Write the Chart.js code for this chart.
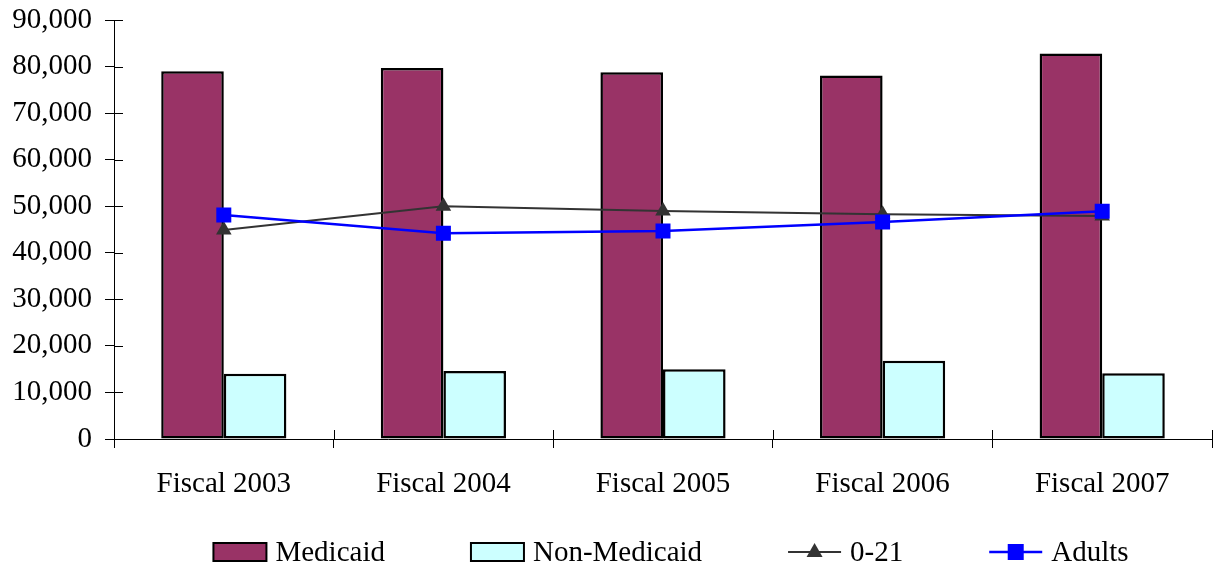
<!DOCTYPE html>
<html>
<head>
<meta charset="utf-8">
<script src="https://cdn.jsdelivr.net/npm/chart.js@4.4.1/dist/chart.umd.min.js"></script>
<style>
  html, body { margin: 0; padding: 0; background: #fff; }
  #wrap { width: 1214px; height: 567px; }
</style>
</head>
<body>
<div id="wrap"><canvas id="chart" width="1214" height="567"></canvas></div>
<script>
const categories = ['Fiscal 2003', 'Fiscal 2004', 'Fiscal 2005', 'Fiscal 2006', 'Fiscal 2007'];
const medicaid = [79000, 79700, 78800, 78100, 82800];
const nonMedicaid = [14000, 14600, 15000, 16800, 14100];
const age021 = [44900, 50000, 49000, 48300, 47900];
const adults = [48100, 44200, 44700, 46600, 48900];
const yTicks = [0, 10000, 20000, 30000, 40000, 50000, 60000, 70000, 80000, 90000];

const FONT = '"Liberation Serif", "Times New Roman", serif';

// inner half of the crossing tick marks
const innerTicks = {
    id: 'innerTicks',
    afterDraw(chart) {
        const {ctx, chartArea, scales} = chart;
        ctx.save();
        ctx.strokeStyle = '#000';
        ctx.lineWidth = 1;
        ctx.beginPath();
        yTicks.forEach(v => {
            const y = Math.round(scales.y.getPixelForValue(v)) + 0.5;
            ctx.moveTo(chartArea.left, y);
            ctx.lineTo(chartArea.left + 9, y);
        });
        const step = (chartArea.right - chartArea.left) / categories.length;
        for (let i = 0; i <= categories.length; i++) {
            const x = Math.round(chartArea.left + i * step) + 0.5;
            ctx.moveTo(x, chartArea.bottom);
            ctx.lineTo(x, chartArea.bottom - 9);
        }
        ctx.stroke();
        ctx.restore();
    }
};

// legend row under the axis: boxes for bars, line + marker for lines
const bottomLegend = {
    id: 'bottomLegend',
    afterDraw(chart) {
        const ctx = chart.ctx;
        const y = 552;
        ctx.save();
        ctx.font = '29px ' + FONT;
        ctx.textBaseline = 'middle';
        ctx.fillStyle = '#000';
        const items = chart.data.datasets.map(ds => ({ds: ds, w: 53 + 9 + ctx.measureText(ds.label).width}));
        const gap = 86;
        const total = items.reduce((s, it) => s + it.w, 0) + gap * (items.length - 1);
        let x = (chart.chartArea.left + chart.chartArea.right) / 2 - total / 2 + 8;
        items.forEach(it => {
            const ds = it.ds;
            if (ds.type === 'line') {
                ctx.strokeStyle = ds.borderColor;
                ctx.lineWidth = ds.borderWidth;
                ctx.beginPath();
                ctx.moveTo(x, y);
                ctx.lineTo(x + 53, y);
                ctx.stroke();
                ctx.fillStyle = ds.pointBackgroundColor;
                const cx = x + 26.5;
                if (ds.pointStyle === 'triangle') {
                    ctx.beginPath();
                    ctx.moveTo(cx, y - 9);
                    ctx.lineTo(cx + 8, y + 5);
                    ctx.lineTo(cx - 8, y + 5);
                    ctx.closePath();
                    ctx.fill();
                } else {
                    ctx.fillRect(cx - 8, y - 8, 16, 16);
                }
            } else {
                ctx.fillStyle = ds.backgroundColor;
                ctx.fillRect(x, y - 9, 53, 18);
                ctx.strokeStyle = '#000';
                ctx.lineWidth = 2;
                ctx.strokeRect(x, y - 9, 53, 18);
            }
            ctx.fillStyle = '#000';
            ctx.fillText(ds.label, x + 53 + 9, y + 1);
            x += it.w + gap;
        });
        ctx.restore();
    }
};

const ctx = document.getElementById('chart').getContext('2d');

new Chart(ctx, {
    data: {
        labels: categories,
        datasets: [{
            type: 'bar',
            label: 'Medicaid',
            data: medicaid,
            backgroundColor: '#993366',
            borderColor: '#000',
            borderWidth: 2.5,
            borderSkipped: false,
            order: 3
        }, {
            type: 'bar',
            label: 'Non-Medicaid',
            data: nonMedicaid,
            backgroundColor: '#CCFFFF',
            borderColor: '#000',
            borderWidth: 2.5,
            borderSkipped: false,
            order: 3
        }, {
            type: 'line',
            label: '0-21',
            data: age021,
            borderColor: '#333333',
            borderWidth: 2,
            pointStyle: 'triangle',
            pointRadius: 9,
            pointBackgroundColor: '#333333',
            pointBorderColor: '#333333',
            pointBorderWidth: 0,
            tension: 0,
            order: 2
        }, {
            type: 'line',
            label: 'Adults',
            data: adults,
            borderColor: '#0000FF',
            borderWidth: 2.5,
            pointStyle: 'rect',
            pointRadius: 10.6,
            pointBackgroundColor: '#0000FF',
            pointBorderColor: '#0000FF',
            pointBorderWidth: 0,
            tension: 0,
            order: 1
        }]
    },
    options: {
        responsive: false,
        animation: false,
        layout: {
            autoPadding: false,
            padding: { top: 20, right: 2, bottom: 0, left: 0 }
        },
        datasets: {
            bar: {
                barPercentage: 1,
                categoryPercentage: 0.57
            }
        },
        plugins: {
            legend: { display: false },
            tooltip: { enabled: false }
        },
        scales: {
            x: {
                grid: {
                    display: true,
                    drawOnChartArea: false,
                    tickLength: 9,
                    color: '#000',
                    offset: true
                },
                border: { display: true, color: '#000', width: 1 },
                ticks: {
                    padding: 19,
                    color: '#000',
                    font: { family: FONT, size: 29 }
                },
                afterFit: function(scale) {
                    scale.height = 128;
                    scale.paddingLeft = 0;
                    scale.paddingRight = 0;
                }
            },
            y: {
                min: 0,
                max: 90000,
                grid: {
                    display: true,
                    drawOnChartArea: false,
                    tickLength: 9,
                    color: '#000'
                },
                border: { display: true, color: '#000', width: 1 },
                afterBuildTicks: function(scale) {
                    scale.ticks = yTicks.map(v => ({ value: v }));
                },
                ticks: {
                    padding: 13,
                    color: '#000',
                    font: { family: FONT, size: 29 },
                    callback: function(v) {
                        return v.toLocaleString('en-US');
                    }
                },
                afterFit: function(scale) {
                    scale.width = 114;
                    scale.paddingTop = 0;
                    scale.paddingBottom = 0;
                }
            }
        }
    },
    plugins: [innerTicks, bottomLegend]
});
</script>
</body>
</html>
